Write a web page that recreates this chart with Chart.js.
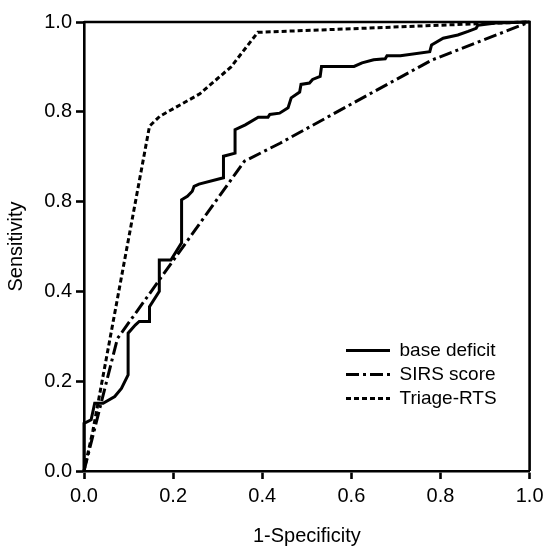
<!DOCTYPE html>
<html>
<head>
<meta charset="utf-8">
<script src="https://cdn.jsdelivr.net/npm/chart.js@4.4.1/dist/chart.umd.min.js"></script>
<style>
  html, body { margin: 0; padding: 0; background: #fff; }
  #wrap { width: 549px; height: 550px; }
</style>
</head>
<body>
<div id="wrap"><canvas id="c" width="549" height="550"></canvas></div>
<script>
// ---- data ----
const seriesNames = ['base deficit', 'SIRS score', 'Triage-RTS'];

const baseDeficitFpr = [0, 0, 0.016, 0.024, 0.043, 0.069, 0.084, 0.099, 0.099, 0.115, 0.124, 0.147, 0.147, 0.169, 0.169, 0.195, 0.219, 0.219, 0.232, 0.243, 0.247, 0.258, 0.313, 0.313, 0.339, 0.339, 0.362, 0.391, 0.413, 0.417, 0.439, 0.458, 0.465, 0.484, 0.487, 0.506, 0.513, 0.53, 0.533, 0.606, 0.624, 0.65, 0.676, 0.68, 0.71, 0.776, 0.78, 0.806, 0.839, 0.862, 0.88, 0.884, 0.924, 1];
const baseDeficitTpr = [0, 0.106, 0.114, 0.151, 0.151, 0.166, 0.184, 0.214, 0.307, 0.325, 0.333, 0.333, 0.366, 0.40, 0.47, 0.47, 0.508, 0.604, 0.612, 0.623, 0.634, 0.639, 0.653, 0.701, 0.708, 0.760, 0.771, 0.788, 0.788, 0.794, 0.797, 0.809, 0.831, 0.844, 0.861, 0.864, 0.872, 0.879, 0.901, 0.901, 0.909, 0.916, 0.918, 0.925, 0.925, 0.934, 0.949, 0.964, 0.971, 0.979, 0.986, 0.993, 0.998, 1];

const sirsFpr = [0, 0.075, 0.36, 0.44, 0.66, 0.78, 1];
const sirsTpr = [0, 0.295, 0.69, 0.73, 0.85, 0.915, 1];

const triageFpr = [0, 0.02, 0.147, 0.17, 0.26, 0.33, 0.39, 0.6, 0.88, 1];
const triageTpr = [0, 0.09, 0.768, 0.79, 0.84, 0.90, 0.977, 0.985, 0.996, 1];

const xTickLabels = ['0.0', '0.2', '0.4', '0.6', '0.8', '1.0'];
const yTickLabels = ['0.0', '0.2', '0.4', '0.8', '0.8', '1.0']; // as printed in the original
const xTitle = '1-Specificity';
const yTitle = 'Sensitivity';

// ---- build ----
function pts(xs, ys) { return xs.map((x, i) => ({ x: x, y: ys[i] })); }

const FONT = 'Liberation Sans, Arial, Helvetica, sans-serif';
const FS = 20;
const LFS = 19;
const INK = '#000';

const boxPlugin = {
  id: 'frameBox',
  afterDatasetsDraw(chart) {
    const a = chart.chartArea, ctx = chart.ctx;
    ctx.save();
    ctx.strokeStyle = INK;
    ctx.lineWidth = 2.6;
    ctx.beginPath();
    ctx.moveTo(a.left, a.top);
    ctx.lineTo(a.right, a.top);
    ctx.lineTo(a.right, a.bottom);
    ctx.stroke();
    ctx.restore();
  }
};

const legendPlace = {
  id: 'legendPlace',
  afterLayout(chart) {
    const l = chart.legend;
    if (!l) return;
    const a = chart.chartArea;
    l.left = 341; l.top = 336;
    l.right = a.right; l.bottom = a.bottom;
    l.width = l.right - l.left; l.height = l.bottom - l.top;
  }
};

new Chart(document.getElementById('c'), {
  type: 'scatter',
  data: {
    datasets: [
      { label: seriesNames[0], data: pts(baseDeficitFpr, baseDeficitTpr), showLine: true,
        borderColor: INK, backgroundColor: INK, borderWidth: 3, borderDash: [], pointRadius: 0, tension: 0, clip: false },
      { label: seriesNames[1], data: pts(sirsFpr, sirsTpr), showLine: true,
        borderColor: INK, backgroundColor: INK, borderWidth: 3, borderDash: [13, 4, 3, 4], pointRadius: 0, tension: 0, clip: false },
      { label: seriesNames[2], data: pts(triageFpr, triageTpr), showLine: true,
        borderColor: INK, backgroundColor: INK, borderWidth: 3, borderDash: [5, 3], pointRadius: 0, tension: 0, clip: false }
    ]
  },
  options: {
    responsive: false,
    animation: false,
    events: [],
    layout: { padding: { left: 0, right: 15, top: 22, bottom: 0 } },
    plugins: {
      tooltip: { enabled: false },
      legend: {
        display: true,
        position: 'chartArea',
        align: 'start',
        labels: {
          usePointStyle: true,
          pointStyle: 'line',
          pointStyleWidth: 44,
          boxHeight: LFS,
          padding: 5,
          color: INK,
          font: { family: FONT, size: LFS },
          generateLabels(chart) {
            const items = Chart.defaults.plugins.legend.labels.generateLabels(chart);
            items.forEach(it => {
              const ds = chart.data.datasets[it.datasetIndex];
              it.lineDash = ds.borderDash;
              it.lineWidth = ds.borderWidth;
              it.strokeStyle = ds.borderColor;
              it.pointStyle = 'line';
            });
            return items;
          }
        }
      }
    },
    scales: {
      x: {
        type: 'linear', min: 0, max: 1,
        afterFit(s) { s.height = 79; },
        ticks: { stepSize: 0.2, color: INK, padding: 5.5, maxRotation: 0,
          font: { family: FONT, size: FS },
          callback: (v, i) => xTickLabels[i] },
        grid: { display: true, drawOnChartArea: false, drawTicks: true, tickLength: 8, tickWidth: 2.6, tickColor: INK },
        border: { display: true, width: 2.6, color: INK },
        title: { display: true, text: xTitle, color: INK, font: { family: FONT, size: FS }, padding: { top: 0, bottom: 2 } }
      },
      y: {
        type: 'linear', min: 0, max: 1,
        afterFit(s) { s.width = 84; },
        ticks: { stepSize: 0.2, color: INK, padding: 4,
          font: { family: FONT, size: FS },
          callback: (v, i) => yTickLabels[i] },
        grid: { display: true, drawOnChartArea: false, drawTicks: true, tickLength: 8, tickWidth: 2.6, tickColor: INK },
        border: { display: true, width: 2.6, color: INK },
        title: { display: true, text: yTitle, color: INK, font: { family: FONT, size: FS }, padding: { top: 4.5, bottom: 0 } }
      }
    }
  },
  plugins: [boxPlugin, legendPlace]
});
</script>
</body>
</html>
